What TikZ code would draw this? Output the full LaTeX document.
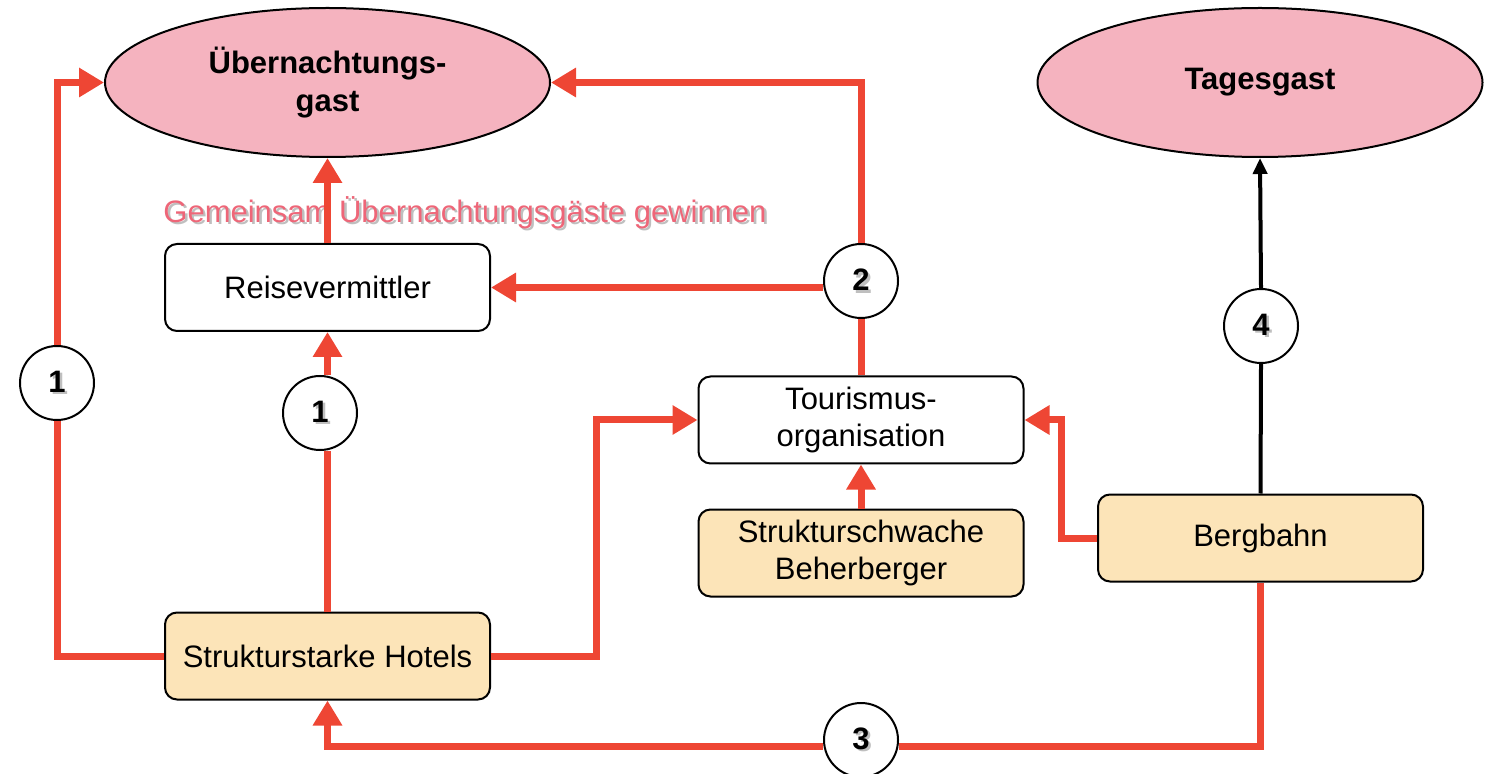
\documentclass[tikz,border=0pt]{standalone}
\usepackage{fontspec}
\setmainfont{Liberation Sans}
\usepackage{tikz}
\usetikzlibrary{arrows.meta, shapes.geometric}

\definecolor{guestpink}{HTML}{F5B3BF}
\definecolor{boxorange}{HTML}{FCE4B8}
\definecolor{linkred}{HTML}{EE4634}
\definecolor{labelpink}{HTML}{EE6678}

% text with a soft grey drop shadow
\newcommand\shadowtext[2]{\makebox[0pt][l]{\kern1.2pt\raisebox{-1.2pt}{\color{black!25}#2}}{\color{#1}#2}}

\begin{document}
\begin{tikzpicture}[
    x=0.5pt, y=-0.5pt, font=\fontsize{15.5}{18.5}\selectfont,
    guest/.style={ellipse, draw, line width=1pt, fill=guestpink, minimum width=222.5pt,
        minimum height=74.5pt, align=center, font=\fontsize{15.5}{19}\selectfont\bfseries},
    actor/.style={rectangle, rounded corners=6pt, draw, line width=1pt, fill=white,
        minimum width=162.5pt, minimum height=43.5pt, align=center},
    provider/.style={actor, fill=boxorange},
    num/.style={circle, draw, line width=1pt, fill=white, minimum size=37pt, inner sep=0pt,
        font=\fontsize{15.5}{18}\selectfont\bfseries},
    link/.style={draw=linkred, line width=3.5pt},
    linkto/.style={link, -{Triangle[length=12.5pt,width=14pt]}},
    plain/.style={draw=black, line width=2pt},
    plainto/.style={plain, -{Triangle[length=8pt,width=7pt]}}]

    \useasboundingbox (0,0) rectangle (1492,774);

    % Define guests
    \node[guest] (gast) at (327.5,82.5) {Übernachtungs-\\gast};
    \node[guest] (tages) at (1260,82.5) {Tagesgast};

    % Define actors
    \node[actor] (reise) at (327.5,287.5) {Reisevermittler};
    \node[actor] (tour) at (861,420) {Tourismus-\\organisation};
    \node[provider] (weak) at (861,553) {Strukturschwache\\Beherberger};
    \node[provider] (berg) at (1260.5,538) {Bergbahn};
    \node[provider] (hotels) at (327.5,656) {Strukturstarke Hotels};

    \node (motto) at (465,214) {\shadowtext{labelpink}{Gemeinsam Übernachtungsgäste gewinnen}};

    % Define markers
    \node[num] (c1a) at (57,383) {\shadowtext{black}{1}};
    \node[num] (c1b) at (320,413) {\shadowtext{black}{1}};
    \node[num] (c2) at (861,281) {\shadowtext{black}{2}};
    \node[num] (c3) at (861,740) {\shadowtext{black}{3}};
    \node[num] (c4) at (1261,326) {\shadowtext{black}{4}};
    \coordinate (low) at (0,746);

    % Draw connections
    \draw[link] (hotels.west) -| (c1a.south);
    \draw[linkto] (c1a.north) |- (gast.west);
    \draw[link] (hotels.north) -- (hotels.north |- c1b.south);
    \draw[linkto] (hotels.north |- c1b.north) -- (reise.south);
    \draw[linkto] (reise.north) -- (gast.south);
    \draw[linkto] (hotels.east) -- ++(105,0) |- (tour.west);
    \draw[linkto] (weak.north) -- (tour.south);
    \draw[linkto] (berg.west) -- ++(-36,0) |- (tour.east);
    \draw[link] (tour.north) -- (c2.south);
    \draw[linkto] (c2.north) |- (gast.east);
    \draw[linkto] (c2.west |- reise.east) -- (reise.east);
    \draw[link] (berg.south) |- (c3.east |- low);
    \draw[linkto] (c3.west |- low) -| (hotels.south);
    \draw[plain] (berg.north) -- (c4.south);
    \draw[plainto] (c4.north) -- (tages.south);

\end{tikzpicture}
\end{document}
